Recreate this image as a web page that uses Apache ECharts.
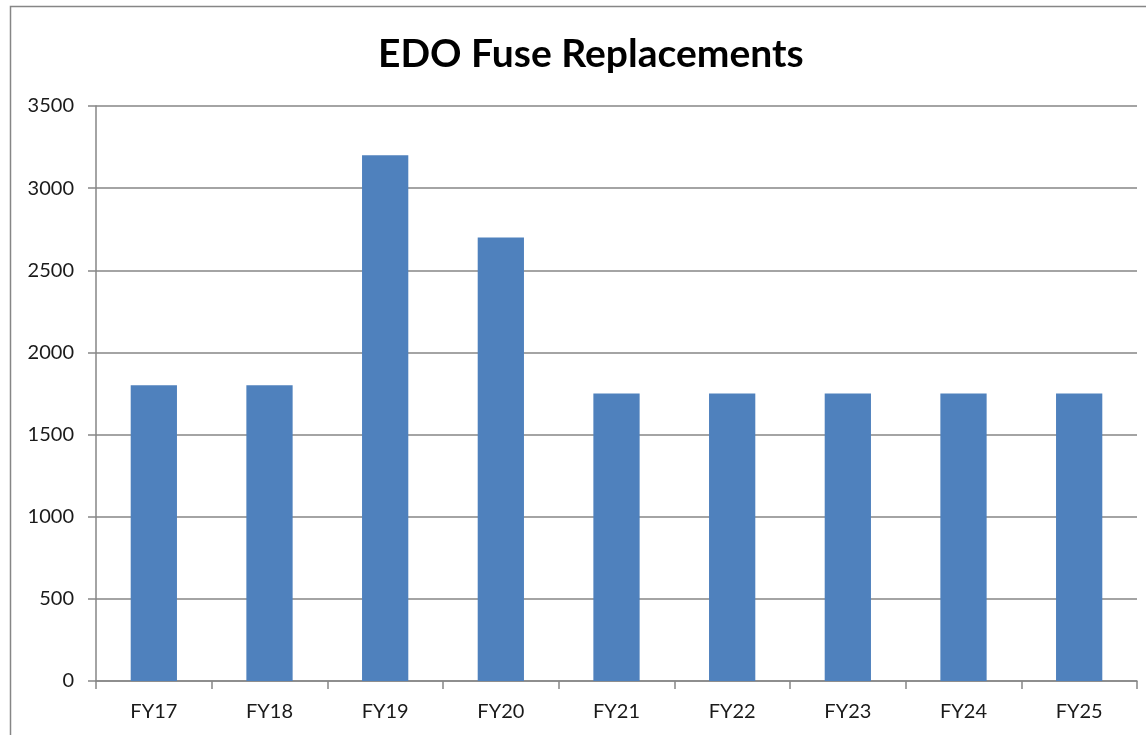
<!DOCTYPE html>
<html>
<head>
<meta charset="utf-8">
<script src="https://cdn.jsdelivr.net/npm/echarts@6/dist/echarts.min.js"></script>
<style>
html,body{margin:0;padding:0;background:#fff;}
#c{width:1146px;height:735px;}
</style>
</head>
<body>
<div id="c"></div>
<script>
const categories = ['FY17','FY18','FY19','FY20','FY21','FY22','FY23','FY24','FY25'];
const values = [1800, 1800, 3200, 2700, 1750, 1750, 1750, 1750, 1750];
const yTicks = { min: 0, max: 3500, interval: 500 };

const chart = echarts.init(document.getElementById('c'));
chart.setOption({
  backgroundColor: '#fff',
  animation: false,
  title: {
    text: 'EDO Fuse Replacements',
    left: 373,
    top: 30,
    textStyle: { fontFamily: 'Lato, "Open Sans", sans-serif', fontSize: 39, fontWeight: 'bold', color: '#000' }
  },
  graphic: [{
    type: 'rect',
    shape: { x: 10.5, y: 6.5, width: 1150, height: 740 },
    style: { fill: 'none', stroke: '#868686', lineWidth: 1.5 },
    silent: true
  }],
  grid: { left: 96, right: 9, top: 106, bottom: 54, containLabel: false },
  xAxis: {
    type: 'category',
    data: categories,
    boundaryGap: true,
    axisLine: { show: true, lineStyle: { color: '#868686', width: 1.5 } },
    axisTick: { show: true, length: 8, alignWithLabel: false, lineStyle: { color: '#868686', width: 1.5 } },
    axisLabel: { margin: 21, fontSize: 20, color: '#1a1a1a', fontFamily: 'Lato, "Open Sans", sans-serif' }
  },
  yAxis: {
    type: 'value',
    min: yTicks.min, max: yTicks.max, interval: yTicks.interval,
    axisLine: { show: true, lineStyle: { color: '#868686', width: 1.5 } },
    axisTick: { show: true, length: 8, lineStyle: { color: '#868686', width: 1.5 } },
    splitLine: { show: true, lineStyle: { color: '#868686', width: 1.5 } },
    axisLabel: { margin: 22, fontSize: 20, color: '#1a1a1a', fontFamily: 'Lato, "Open Sans", sans-serif', formatter: v => String(v) }
  },
  series: [{
    type: 'bar',
    data: values,
    barWidth: '40%',
    itemStyle: { color: '#4F81BD' }
  }]
});
</script>
</body>
</html>
